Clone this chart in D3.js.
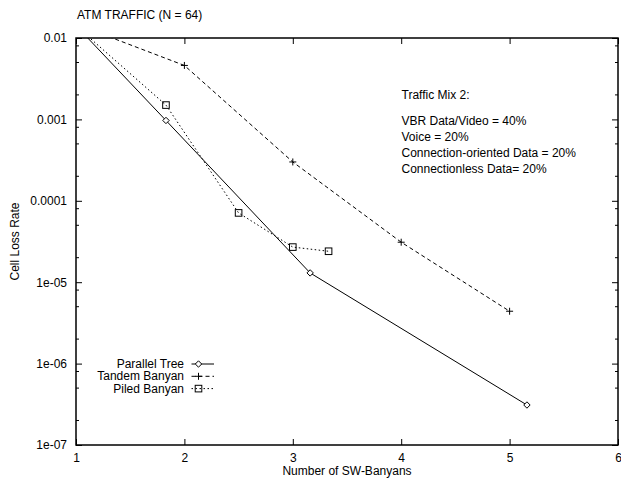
<!DOCTYPE html>
<html>
<head>
<meta charset="utf-8">
<script src="https://cdn.jsdelivr.net/npm/d3@7"></script>
<style>
  body { margin: 0; background: #fff; }
  svg { display: block; font-family: "Liberation Sans", Arial, Helvetica, sans-serif; }
  .axis path { display: none; }
  .axis line { stroke: #000; }
  .axis text { font-size: 12px; fill: #000; font-family: "Liberation Sans", Arial, sans-serif; }
</style>
</head>
<body>
<div id="chart"></div>
<script>
// data
const xTicks = [1, 2, 3, 4, 5, 6];
const yTicks = [1e-7, 1e-6, 1e-5, 1e-4, 1e-3, 1e-2];
const yTickLabels = ['1e-07', '1e-06', '1e-05', '0.0001', '0.001', '0.01'];
const yMinorMult = [2, 5, 8];

const seriesNames = ['Parallel Tree', 'Tandem Banyan', 'Piled Banyan'];
const parallelX = [1, 1.83, 3.16, 5.16];
const parallelY = [0.0142, 0.00097, 1.3e-5, 3.1e-7];
const tandemX = [1, 2, 3, 4, 5];
const tandemY = [0.0148, 0.0046, 0.0003, 3.1e-5, 4.4e-6];
const piledX = [1, 1.83, 2.5, 3, 3.33];
const piledY = [0.0141, 0.0015, 7.1e-5, 2.7e-5, 2.4e-5];

const noteLines = ['VBR Data/Video = 40%', 'Voice = 20%', 'Connection-oriented Data = 20%', 'Connectionless Data= 20%'];

const W = 621, H = 479;
const m = {left: 76, right: 3, top: 38, bottom: 34};
const pw = W - m.left - m.right, ph = H - m.top - m.bottom;

const svg = d3.select('#chart').append('svg').attr('width', W).attr('height', H);

const x = d3.scaleLinear().domain([1, 6]).range([m.left, m.left + pw]);
const y = d3.scaleLog().domain([1e-7, 1e-2]).range([m.top + ph, m.top]);

// title
svg.append('text').attr('x', 77).attr('y', 18.5).attr('font-size', 12).text('ATM TRAFFIC (N = 64)');

// axes, ticks pointing inward like gnuplot
svg.append('g').attr('class', 'axis')
    .attr('transform', `translate(0,${m.top + ph})`)
    .call(d3.axisBottom(x).tickValues(xTicks).tickFormat(d3.format('d')).tickSize(-6).tickPadding(8));
svg.append('g').attr('class', 'axis')
    .attr('transform', `translate(0,${m.top})`)
    .call(d3.axisTop(x).tickValues(xTicks).tickFormat('').tickSize(-6));
svg.append('g').attr('class', 'axis')
    .attr('transform', `translate(${m.left},0)`)
    .call(d3.axisLeft(y).tickValues(yTicks).tickFormat((d, i) => yTickLabels[i]).tickSize(-6).tickPadding(9));
svg.append('g').attr('class', 'axis')
    .attr('transform', `translate(${m.left + pw},0)`)
    .call(d3.axisRight(y).tickValues(yTicks).tickFormat('').tickSize(-6));

// minor ticks on the log axis
let minors = [];
for (const t of yTicks.slice(0, -1)) {
    for (const k of yMinorMult) minors.push(t * k);
}
const mg = svg.append('g').attr('stroke', '#000');
minors.forEach(v => {
    mg.append('line').attr('x1', m.left).attr('x2', m.left + 3).attr('y1', y(v)).attr('y2', y(v));
    mg.append('line').attr('x1', m.left + pw).attr('x2', m.left + pw - 3).attr('y1', y(v)).attr('y2', y(v));
});

// frame
svg.append('rect').attr('x', m.left).attr('y', m.top).attr('width', pw).attr('height', ph)
    .attr('fill', 'none').attr('stroke', '#000').attr('stroke-width', 1.5);

// axis labels
svg.append('text').attr('x', 347).attr('y', 475).attr('text-anchor', 'middle')
    .attr('font-size', 12).text('Number of SW-Banyans');
svg.append('text').attr('transform', `translate(18.5,${m.top + ph / 2}) rotate(-90)`)
    .attr('text-anchor', 'middle').attr('font-size', 12).text('Cell Loss Rate');

// note
const note = svg.append('g').attr('font-size', 12);
note.append('text').attr('x', 401.5).attr('y', 99).text('Traffic Mix 2:');
note.selectAll('.nl').data(noteLines).join('text')
    .attr('x', 401.5).attr('y', (d, i) => 125 + i * 16).text(d => d);

// series
svg.append('clipPath').attr('id', 'clip').append('rect')
    .attr('x', m.left).attr('y', m.top).attr('width', pw).attr('height', ph);

const series = [
    {name: seriesNames[0], xs: parallelX, ys: parallelY, dash: null, mark: 'diamond'},
    {name: seriesNames[1], xs: tandemX, ys: tandemY, dash: '4,3', mark: 'plus'},
    {name: seriesNames[2], xs: piledX, ys: piledY, dash: '1.5,2.5', mark: 'square'}
];

function marker(g, type, cx, cy) {
    if (type === 'diamond') {
        g.append('path').attr('d', `M${cx},${cy - 3.2}L${cx + 3.2},${cy}L${cx},${cy + 3.2}L${cx - 3.2},${cy}Z`)
            .attr('fill', '#fff').attr('stroke', '#000');
    } else if (type === 'plus') {
        g.append('path').attr('d', `M${cx - 3.5},${cy}H${cx + 3.5}M${cx},${cy - 3.5}V${cy + 3.5}`)
            .attr('stroke', '#000');
    } else {
        g.append('rect').attr('x', cx - 3.3).attr('y', cy - 3.3).attr('width', 6.6).attr('height', 6.6)
            .attr('fill', 'none').attr('stroke', '#000');
    }
}

const line = d3.line().x(d => x(d[0])).y(d => y(d[1]));
const plot = svg.append('g').attr('clip-path', 'url(#clip)');

series.forEach((s, i) => {
    const pts = s.xs.map((v, j) => [v, s.ys[j]]);
    plot.append('path').datum(pts).attr('d', line)
        .attr('fill', 'none').attr('stroke', '#000').attr('stroke-width', 1)
        .attr('stroke-dasharray', s.dash);
    const mk = svg.append('g');
    pts.filter(p => p[1] <= 1e-2).forEach(p => marker(mk, s.mark, x(p[0]), y(p[1])));

    // legend entry
    const ly = 364 + i * 12.3;
    svg.append('text').attr('x', 184).attr('y', ly + 4).attr('text-anchor', 'end')
        .attr('font-size', 12).text(s.name);
    svg.append('line').attr('x1', 191.5).attr('x2', 214).attr('y1', ly).attr('y2', ly)
        .attr('stroke', '#000').attr('stroke-dasharray', s.dash);
    marker(svg.append('g'), s.mark, 198.5, ly);
});
</script>
</body>
</html>
